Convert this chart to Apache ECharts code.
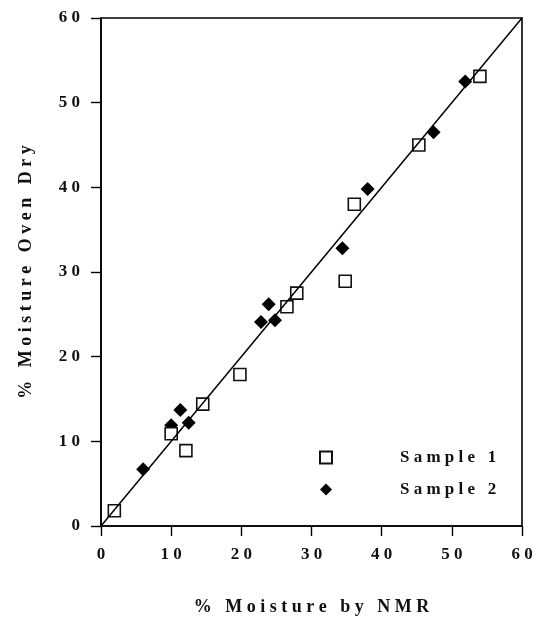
<!DOCTYPE html>
<html>
<head>
<meta charset="utf-8">
<script src="https://cdn.jsdelivr.net/npm/echarts@6/dist/echarts.min.js"></script>
<style>
    html, body { margin: 0; padding: 0; background: #fff; }
    #chart { width: 544px; height: 624px; }
</style>
</head>
<body>
<div id="chart"></div>
<script>
var axisTicks = [0, 10, 20, 30, 40, 50, 60];
var seriesNames = ['Sample 1', 'Sample 2'];

// % moisture by NMR vs % moisture oven dry
var sample1 = [
    [1.9, 1.8], [10.0, 10.9], [12.1, 8.9], [14.5, 14.4], [19.8, 17.9],
    [26.5, 25.9], [27.9, 27.5], [34.8, 28.9], [36.1, 38.0], [45.3, 45.0], [54.0, 53.1]
];
var sample2 = [
    [6.0, 6.7], [10.0, 11.9], [11.3, 13.7], [12.5, 12.2], [22.8, 24.1],
    [23.9, 26.2], [24.8, 24.3], [34.4, 32.8], [38.0, 39.8], [47.4, 46.5], [51.9, 52.5]
];
var equalityLine = [[0, 0], [60, 60]];

var font = '"Liberation Serif", "Times New Roman", serif';
var ink = '#111';

// the original type is tracked out quite a bit
function spaced(s) {
    return String(s).split('').join('\u2005');
}

function $ext(a, b) {
    var o = {};
    for (var k in a) o[k] = a[k];
    for (var j in b) o[j] = b[j];
    return o;
}

var chart = echarts.init(document.getElementById('chart'));

var axisCommon = {
    type: 'value',
    min: axisTicks[0],
    max: axisTicks[axisTicks.length - 1],
    interval: 10,
    nameLocation: 'middle',
    nameTextStyle: {
        fontFamily: font,
        fontWeight: 'bold',
        fontSize: 18,
        color: ink
    },
    axisLine: { show: true, lineStyle: { color: '#000', width: 1.6 } },
    axisTick: { show: true, inside: false, length: 10, lineStyle: { color: '#000', width: 1.4 } },
    splitLine: { show: false },
    axisLabel: {
        fontFamily: font,
        fontWeight: 'bold',
        fontSize: 17,
        color: ink,
        formatter: function (v) { return spaced(v); }
    }
};

var option = {
    backgroundColor: '#fff',
    animation: false,
    grid: {
        left: 101,
        right: 22,
        top: 18,
        bottom: 98,
        show: true,
        borderColor: '#000',
        borderWidth: 1.6
    },
    xAxis: $ext(axisCommon, {
        name: spaced('% Moisture by NMR'),
        nameGap: 72,
        axisLabel: $ext(axisCommon.axisLabel, { margin: 20 })
    }),
    yAxis: $ext(axisCommon, {
        name: spaced('% Moisture Oven Dry'),
        nameGap: 66,
        axisLabel: $ext(axisCommon.axisLabel, { margin: 21 })
    }),
    legend: {
        data: seriesNames,
        orient: 'vertical',
        left: 314,
        top: 444,
        itemWidth: 12,
        itemHeight: 12,
        itemGap: 15,
        formatter: function (name) {
            return '{t|' + spaced(name) + '}';
        },
        textStyle: {
            fontFamily: font,
            fontWeight: 'bold',
            fontSize: 17,
            color: ink,
            rich: {
                t: {
                    fontFamily: font,
                    fontWeight: 'bold',
                    fontSize: 17,
                    color: ink,
                    padding: [0, 0, 0, 63]
                }
            }
        }
    },
    series: [
        {
            name: 'Sample 2',
            type: 'scatter',
            symbol: 'diamond',
            symbolSize: 14,
            z: 2,
            itemStyle: { color: '#000', opacity: 1 },
            data: sample2
        },
        {
            name: 'Sample 1',
            type: 'scatter',
            symbol: 'rect',
            symbolSize: 12,
            z: 3,
            itemStyle: { color: '#fff', borderColor: '#111', borderWidth: 1.6, opacity: 1 },
            data: sample1
        },
        {
            name: 'y = x',
            type: 'line',
            showSymbol: false,
            z: 4,
            silent: true,
            lineStyle: { color: '#000', width: 1.5 },
            data: equalityLine
        }
    ]
};

chart.setOption(option);
</script>
</body>
</html>
